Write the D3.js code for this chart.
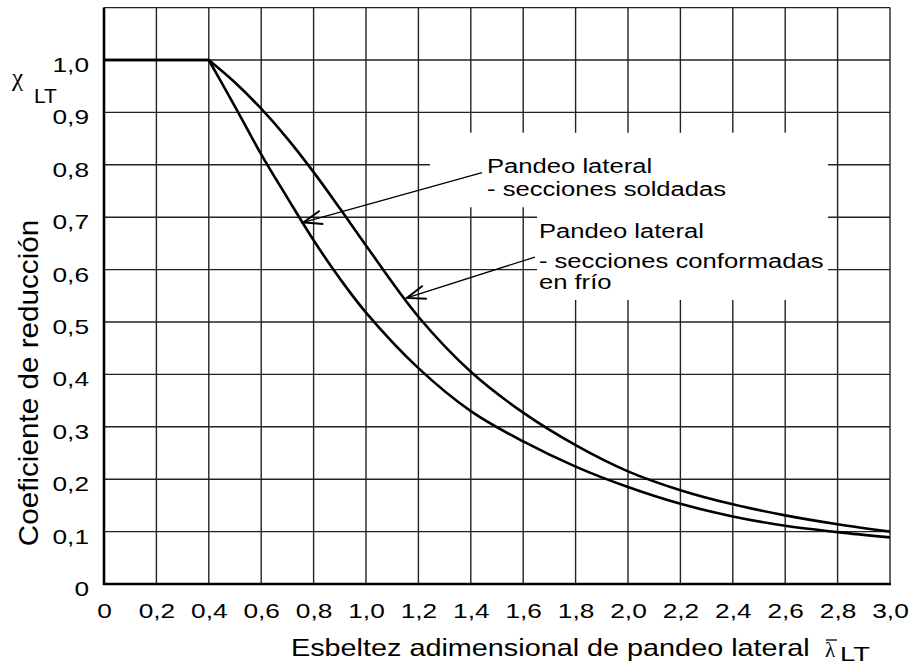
<!DOCTYPE html>
<html>
<head>
<meta charset="utf-8">
<script src="https://cdn.jsdelivr.net/npm/d3@7"></script>
<style>
  body { margin: 0; background: #fff; }
  svg { display: block; font-family: "Liberation Sans", Arial, sans-serif; }
</style>
</head>
<body>
<div id="chart"></div>
<script>
// slenderness values and reduction factors
var lambdaValues = [0, 0.2, 0.4, 0.5, 0.6, 0.7, 0.8, 0.9, 1.0, 1.2, 1.4, 1.6, 1.8, 2.0, 2.2, 2.4, 2.6, 2.8, 3.0];
var chiConformadas = [1, 1, 1, 0.957, 0.907, 0.850, 0.786, 0.717, 0.646, 0.510, 0.405, 0.327, 0.265, 0.215, 0.179, 0.152, 0.131, 0.114, 0.100];
var chiSoldadas = [1, 1, 1, 0.911, 0.820, 0.737, 0.656, 0.583, 0.518, 0.412, 0.330, 0.272, 0.224, 0.185, 0.153, 0.129, 0.111, 0.099, 0.089];

var xTicks = [0, 0.2, 0.4, 0.6, 0.8, 1.0, 1.2, 1.4, 1.6, 1.8, 2.0, 2.2, 2.4, 2.6, 2.8, 3.0];
var xTickLabels = ["0", "0,2", "0,4", "0,6", "0,8", "1,0", "1,2", "1,4", "1,6", "1,8", "2,0", "2,2", "2,4", "2,6", "2,8", "3,0"];
var yTicks = [0, 0.1, 0.2, 0.3, 0.4, 0.5, 0.6, 0.7, 0.8, 0.9, 1.0];
var yTickLabels = ["0", "0,1", "0,2", "0,3", "0,4", "0,5", "0,6", "0,7", "0,8", "0,9", "1,0"];
var yGrid = [0.1, 0.2, 0.3, 0.4, 0.5, 0.6, 0.7, 0.8, 0.9, 1.0, 1.1];

var width = 915, height = 666;
var margin = { left: 104, right: 25, top: 7.6, bottom: 82 };

var svg = d3.select("#chart").append("svg")
  .attr("width", width)
  .attr("height", height);

var x = d3.scaleLinear().domain([0, 3]).range([margin.left, width - margin.right]);
var y = d3.scaleLinear().domain([0, 1.1]).range([height - margin.bottom, margin.top]);

// stretch text horizontally around its anchor (the original lettering is wide)
function stretch(sel, k) {
  sel.each(function () {
    var t = d3.select(this);
    var tx = +t.attr("x") || 0, ty = +t.attr("y") || 0;
    t.attr("transform", "translate(" + tx + "," + ty + ") scale(" + k + ",1) translate(" + (-tx) + "," + (-ty) + ")");
  });
}

// grid
var grid = svg.append("g").attr("stroke", "#222").attr("stroke-width", 1.4);
grid.selectAll(".vg").data(xTicks.slice(1)).enter().append("line")
  .attr("x1", d => x(d)).attr("x2", d => x(d))
  .attr("y1", y(0)).attr("y2", y(1.1));
grid.selectAll(".hg").data(yGrid).enter().append("line")
  .attr("x1", x(0)).attr("x2", x(3))
  .attr("y1", d => y(d)).attr("y2", d => y(d));

// white area behind the annotations (it hides the grid there)
var maskPts = [[1.244, 0.861], [2.763, 0.861], [2.763, 0.542], [1.653, 0.542], [1.653, 0.719], [1.244, 0.719]];
svg.append("path")
  .attr("d", d3.line().x(d => x(d[0])).y(d => y(d[1]))(maskPts) + "Z")
  .attr("fill", "#fff");

// axes
var yAxis = svg.append("g")
  .attr("transform", "translate(" + x(0) + ",0)")
  .call(d3.axisLeft(y).tickValues(yTicks).tickFormat((d, i) => yTickLabels[i]).tickSize(0).tickPadding(15).tickSizeOuter(0));
yAxis.select(".domain").remove();
yAxis.selectAll("text").attr("font-size", 21).attr("font-family", "Liberation Sans, Arial, sans-serif").attr("dy", "0.55em").attr("fill", "#000");
stretch(yAxis.selectAll("text"), 1.25);

var xAxis = svg.append("g")
  .attr("transform", "translate(0," + y(0) + ")")
  .call(d3.axisBottom(x).tickValues(xTicks).tickFormat((d, i) => xTickLabels[i]).tickSize(0).tickPadding(19).tickSizeOuter(0));
xAxis.select(".domain").remove();
xAxis.selectAll("text").attr("font-size", 21).attr("font-family", "Liberation Sans, Arial, sans-serif").attr("fill", "#000");
stretch(xAxis.selectAll("text"), 1.25);

svg.append("line")
  .attr("x1", x(0)).attr("x2", x(0)).attr("y1", y(0) + 1).attr("y2", y(1.1))
  .attr("stroke", "#000").attr("stroke-width", 2.6);
svg.append("line")
  .attr("x1", x(0) - 1).attr("x2", x(3) + 1).attr("y1", y(0)).attr("y2", y(0))
  .attr("stroke", "#000").attr("stroke-width", 2.6);

// curves: flat part straight, the rest smooth
function series(vals) {
  return lambdaValues.map((l, i) => ({ l: l, c: vals[i] }));
}
var flat = d3.line().x(d => x(d.l)).y(d => y(d.c));
var smooth = d3.line().x(d => x(d.l)).y(d => y(d.c)).curve(d3.curveCatmullRom.alpha(0.5));

[chiConformadas, chiSoldadas].forEach(function (vals) {
  var pts = series(vals);
  svg.append("path")
    .attr("d", flat(pts.filter(d => d.l <= 0.4)))
    .attr("fill", "none").attr("stroke", "#000").attr("stroke-width", 2.6);
  svg.append("path")
    .attr("d", smooth(pts.filter(d => d.l >= 0.4)))
    .attr("fill", "none").attr("stroke", "#000").attr("stroke-width", 2.6);
});

// annotation arrows
var arrows = [
  { from: [1.443, 0.785], to: [0.761, 0.690] },
  { from: [1.645, 0.624], to: [1.156, 0.546] }
];
arrows.forEach(function (a) {
  var x1 = x(a.from[0]), y1 = y(a.from[1]), x2 = x(a.to[0]), y2 = y(a.to[1]);
  var ang = Math.atan2(y1 - y2, x1 - x2);
  var len = 20, spread = 20 * Math.PI / 180;
  svg.append("line")
    .attr("x1", x1).attr("y1", y1).attr("x2", x2).attr("y2", y2)
    .attr("stroke", "#000").attr("stroke-width", 1.3);
  var b1 = [x2 + len * Math.cos(ang - spread), y2 + len * Math.sin(ang - spread)];
  var b2 = [x2 + len * Math.cos(ang + spread), y2 + len * Math.sin(ang + spread)];
  svg.append("path")
    .attr("d", "M" + b1 + "L" + [x2, y2] + "L" + b2)
    .attr("fill", "none").attr("stroke", "#000").attr("stroke-width", 2).attr("stroke-linejoin", "miter");
});

// annotation texts
var notes = [
  { l: 1.462, c: 0.784, text: "Pandeo lateral" },
  { l: 1.462, c: 0.740, text: "- secciones soldadas" },
  { l: 1.660, c: 0.660, text: "Pandeo lateral" },
  { l: 1.660, c: 0.603, text: "- secciones conformadas" },
  { l: 1.660, c: 0.563, text: "en frío" }
];
var noteText = svg.append("g").selectAll("text").data(notes).enter().append("text")
  .attr("x", d => x(d.l)).attr("y", d => y(d.c))
  .attr("font-size", 21).attr("fill", "#000")
  .text(d => d.text);
stretch(noteText, 1.22);

// axis titles
var xt = svg.append("text")
  .attr("x", 291).attr("y", 656)
  .attr("font-size", 24).attr("fill", "#000")
  .text("Esbeltez adimensional de pandeo lateral");
stretch(xt, 1.2);

svg.append("text")
  .attr("x", 825).attr("y", 657)
  .attr("font-family", "Liberation Serif, serif")
  .attr("font-size", 21).attr("fill", "#000")
  .text("λ");
svg.append("line")
  .attr("x1", 826).attr("x2", 837).attr("y1", 640).attr("y2", 640)
  .attr("stroke", "#000").attr("stroke-width", 1.3);
var lt = svg.append("text")
  .attr("x", 840).attr("y", 661)
  .attr("font-size", 21).attr("fill", "#000")
  .text("LT");
stretch(lt, 1.3);

svg.append("text")
  .attr("transform", "translate(38,383) rotate(-90) scale(1.06,1)")
  .attr("text-anchor", "middle")
  .attr("font-size", 28).attr("fill", "#000")
  .text("Coeficiente de reducción");

svg.append("text")
  .attr("x", 12).attr("y", 86)
  .attr("font-family", "Liberation Serif, serif")
  .attr("font-size", 25).attr("fill", "#000")
  .text("χ");
svg.append("text")
  .attr("x", 34).attr("y", 103)
  .attr("font-size", 21).attr("fill", "#000")
  .text("LT");
</script>
</body>
</html>
